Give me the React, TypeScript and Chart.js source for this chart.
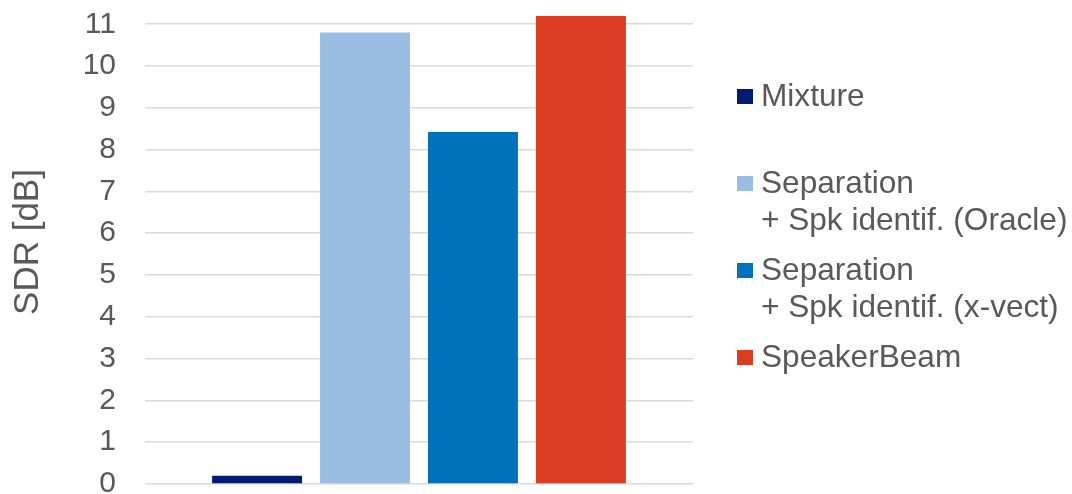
import React, { useEffect, useRef } from "react";
import { Chart, registerables } from "chart.js";

Chart.register(...registerables);

const categories = [""];
const seriesNames = [
  ["Mixture"],
  ["Separation", "+ Spk identif. (Oracle)"],
  ["Separation", "+ Spk identif. (x-vect)"],
  ["SpeakerBeam"],
];
const seriesValues = [[0.2], [10.8], [8.42], [11.2]];
const seriesColors = ["#001B72", "#9BBDE3", "#0071BC", "#DB3D22"];
const yTitle = "SDR [dB]";

const TEXT = "#595959";
const FONT = "'Liberation Sans', Arial, sans-serif";

const legendPlugin = {
  id: "sideLegend",
  afterDraw(chart: any) {
    const ctx = chart.ctx;
    const area = chart.chartArea;
    const x0 = area.right + 44;
    const firstBase = 106;
    const itemStep = 87;
    const lineStep = 37;
    const box = 15;
    ctx.save();
    ctx.font = `31.6px ${FONT}`;
    ctx.fillStyle = TEXT;
    ctx.textBaseline = "alphabetic";
    ctx.textAlign = "left";
    chart.data.datasets.forEach((ds: any, i: number) => {
      const base = firstBase + i * itemStep;
      ctx.fillStyle = ds.backgroundColor;
      ctx.fillRect(x0, base - box - 2, box + 1, box);
      ctx.fillStyle = TEXT;
      const lines: string[] = ds.legendLines;
      lines.forEach((ln: string, j: number) => {
        ctx.fillText(ln, x0 + 24, base + j * lineStep);
      });
    });
    ctx.restore();
  },
};

export default function App() {
  const ref = useRef<HTMLCanvasElement | null>(null);
  useEffect(() => {
    document.body.style.margin = "0";
    const canvas = ref.current!;
    const chart = new Chart(canvas, {
      type: "bar",
      data: {
        labels: categories,
        datasets: seriesNames.map((n, i) => ({
          label: n.join(" "),
          legendLines: n,
          data: seriesValues[i],
          backgroundColor: seriesColors[i],
          borderWidth: 0,
          categoryPercentage: 0.788,
          barPercentage: 0.833,
        })) as any,
      },
      options: {
        animation: false,
        responsive: false,
        maintainAspectRatio: false,
        layout: { padding: { left: 0, top: 0, right: 379, bottom: 10 } },
        plugins: { legend: { display: false }, tooltip: { enabled: false } },
        scales: {
          x: { display: false },
          y: {
            min: 0,
            max: 11.58,
            border: { display: false },
            grid: { color: "#D9D9D9", lineWidth: 1.5, drawTicks: false },
            ticks: {
              stepSize: 1,
              includeBounds: false,
              padding: 29,
              color: TEXT,
              font: { family: FONT, size: 30 },
            },
            title: {
              display: true,
              text: yTitle,
              color: TEXT,
              font: { family: FONT, size: 35 },
              padding: { top: 7, bottom: 0 },
            },
            afterFit(scale: any) {
              scale.width = 145;
              scale.paddingTop = 0;
              scale.paddingBottom = 0;
            },
          },
        },
      },
      plugins: [legendPlugin],
    });
    return () => chart.destroy();
  }, []);
  return (
    <div style={{ width: 1072, height: 494, background: "#fff" }}>
      <canvas ref={ref} width={1072} height={494} style={{ display: "block" }} />
    </div>
  );
}
